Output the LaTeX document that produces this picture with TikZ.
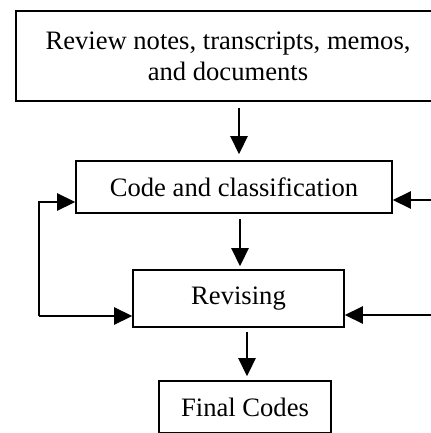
\documentclass[tikz,border=0pt]{standalone}
\usepackage{fontspec}
\setmainfont{Liberation Serif}
\usetikzlibrary{arrows.meta,calc}
\begin{document}
\begin{tikzpicture}[x=0.5pt,y=-0.5pt,
  box/.style={draw,line width=0.8pt,inner sep=0pt,align=center,
    font=\fontsize{13.3}{15.5}\selectfont},
  arr/.style={line width=1.3pt,-{Triangle[length=9pt,width=8.5pt]}}]
\useasboundingbox (0,0) rectangle (431,433);
\node[box,minimum width=212pt,minimum height=45pt] (top) at (228,56)
  {Review notes, transcripts, memos,\\and documents};
\node[box,minimum width=158pt,minimum height=26pt] (code) at (234,187)
  {Code and classification};
\node[box,minimum width=105.5pt,minimum height=28.5pt] (rev) at (238.5,298.5)
  {Revising};
\node[box,minimum width=86pt,minimum height=26pt] (fin) at (245,407)
  {Final Codes};
\coordinate (c1) at (239,0);
\coordinate (c2) at (240,0);
\coordinate (c3) at (247,0);
\draw[arr,shorten <=3pt,shorten >=3pt] (top.south -| c1) -- (code.north -| c1);
\draw[arr,shorten <=2.5pt,shorten >=1.5pt] (code.south -| c2) -- (rev.north -| c2);
\draw[arr,shorten <=2pt,shorten >=2pt] (rev.south -| c3) -- (fin.north -| c3);
\coordinate (lt) at (39,202);
\coordinate (lb) at (39,316);
\draw[arr] (lb) -- (lt) -- (lt -| code.west);
\draw[arr] (lb) -- (lb -| rev.west);
\coordinate (rt) at (440,200);
\coordinate (rb) at (440,315);
\draw[arr] (rt) -- (rt -| code.east);
\draw[arr] (rb) -- (rb -| rev.east);
\end{tikzpicture}
\end{document}
